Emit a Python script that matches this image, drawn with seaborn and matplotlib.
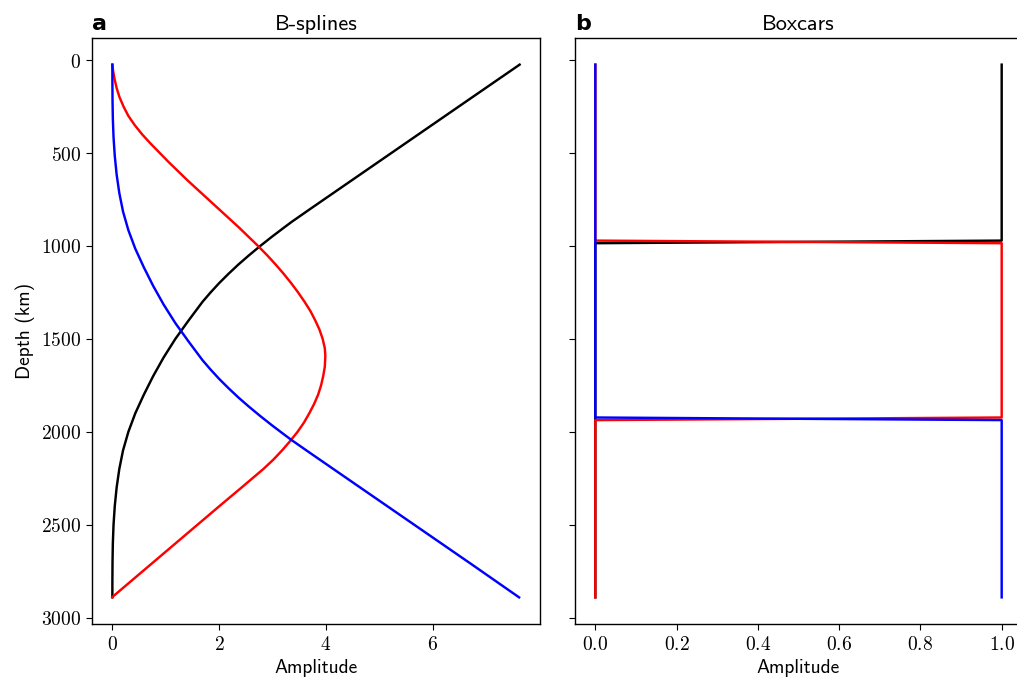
import matplotlib
matplotlib.use("Agg")
import matplotlib.pyplot as plt
from matplotlib.ticker import FuncFormatter
import seaborn as sns

# --- B-spline basis functions: depth (km) and amplitude ---
black_depth = [24, 200, 400, 600, 800, 840, 870, 900, 950, 1000, 1050, 1100, 1150, 1200,
               1250, 1300, 1400, 1500, 1600, 1700, 1800, 1900, 2000, 2100, 2200, 2300,
               2400, 2500, 2600, 2700, 2800, 2891]
black_amp = [7.63, 6.74, 5.73, 4.72, 3.71, 3.51, 3.36, 3.22, 2.99, 2.77, 2.56, 2.36, 2.175,
             2.0, 1.84, 1.69, 1.43, 1.18, 0.96, 0.765, 0.59, 0.43, 0.30, 0.20, 0.13, 0.08,
             0.045, 0.022, 0.009, 0.003, 0.0005, 0.0]

red_depth = [24, 60, 100, 150, 200, 250, 300, 350, 400, 450, 500, 550, 600, 650, 700, 750,
             800, 850, 900, 950, 1000, 1050, 1100, 1150, 1200, 1250, 1300, 1350, 1400,
             1450, 1500, 1550, 1592, 1650, 1700, 1750, 1800, 1850, 1900, 1950, 2000, 2050,
             2100, 2150, 2200, 2250, 2300, 2400, 2500, 2600, 2700, 2800, 2889]
red_amp = [0.0, 0.015, 0.04, 0.08, 0.135, 0.21, 0.30, 0.42, 0.56, 0.72, 0.89, 1.06, 1.24,
           1.42, 1.61, 1.80, 1.99, 2.18, 2.37, 2.55, 2.73, 2.90, 3.06, 3.21, 3.35, 3.48,
           3.60, 3.71, 3.80, 3.88, 3.94, 3.98, 3.99, 3.98, 3.95, 3.91, 3.855, 3.78, 3.69,
           3.59, 3.47, 3.33, 3.18, 3.015, 2.83, 2.625, 2.42, 2.005, 1.595, 1.185, 0.775,
           0.365, 0.0]

blue_depth = [24, 115, 215, 315, 415, 515, 615, 715, 815, 915, 1015, 1115, 1215, 1315,
              1415, 1515, 1615, 1665, 1715, 1765, 1815, 1865, 1915, 1965, 2015, 2045, 2075,
              2115, 2315, 2515, 2715, 2891]
blue_amp = [0.0, 0.0005, 0.003, 0.009, 0.022, 0.045, 0.08, 0.13, 0.20, 0.30, 0.43, 0.59,
            0.765, 0.96, 1.18, 1.43, 1.69, 1.84, 2.0, 2.175, 2.36, 2.56, 2.77, 2.99, 3.22,
            3.36, 3.51, 3.71, 4.72, 5.73, 6.74, 7.62]

# --- Boxcar basis functions ---
box_depth = [24, 971, 985, 1923, 1937, 2891]
box_black = [1, 1, 0, 0, 0, 0]
box_red = [0, 0, 1, 1, 0, 0]
box_blue = [0, 0, 0, 0, 1, 1]

plt.rcParams["mathtext.fontset"] = "cm"
plt.rcParams["axes.linewidth"] = 1.0
plt.rcParams["xtick.major.size"] = 4.3
plt.rcParams["ytick.major.size"] = 4.3

sans = "cmss10"
lw = 1.75

fig = plt.figure(figsize=(10.17, 6.84), dpi=100)
ax1 = fig.add_axes([92 / 1017, 1 - 624 / 684, 448 / 1017, 586 / 684])
ax2 = fig.add_axes([575 / 1017, 1 - 624 / 684, 447 / 1017, 586 / 684], sharey=ax1)

for depth, amp, col in [(black_depth, black_amp, "black"),
                        (red_depth, red_amp, "red"),
                        (blue_depth, blue_amp, "blue")]:
    sns.lineplot(x=amp, y=depth, sort=False, estimator=None, color=col, lw=lw, ax=ax1)

for amp, col in [(box_black, "black"), (box_red, "red"), (box_blue, "blue")]:
    sns.lineplot(x=amp, y=box_depth, sort=False, estimator=None, color=col, lw=lw, ax=ax2)

ax1.invert_yaxis()
ax1.set_yticks([0, 500, 1000, 1500, 2000, 2500, 3000])
ax1.set_xticks([0, 2, 4, 6])
ax2.set_xticks([0.0, 0.2, 0.4, 0.6, 0.8, 1.0])

ax1.yaxis.set_major_formatter(FuncFormatter(lambda v, p: f"${v:.0f}$"))
ax1.xaxis.set_major_formatter(FuncFormatter(lambda v, p: f"${v:.0f}$"))
ax2.xaxis.set_major_formatter(FuncFormatter(lambda v, p: f"${v:.1f}$"))
plt.setp(ax2.get_yticklabels(), visible=False)

for ax in (ax1, ax2):
    ax.tick_params(labelsize=14)
    ax.set_xlabel("Amplitude", fontsize=14, family=sans)
    ax.set_ylabel("")

ax1.set_ylabel("Depth (km)", fontsize=14, family=sans)
ax1.set_title("B-splines", fontsize=16, family=sans)
ax2.set_title("Boxcars", fontsize=16, family=sans)
ax1.set_title("a", loc="left", fontsize=16, fontweight="bold")
ax2.set_title("b", loc="left", fontsize=16, fontweight="bold")

fig.savefig("out.png", dpi=100)
